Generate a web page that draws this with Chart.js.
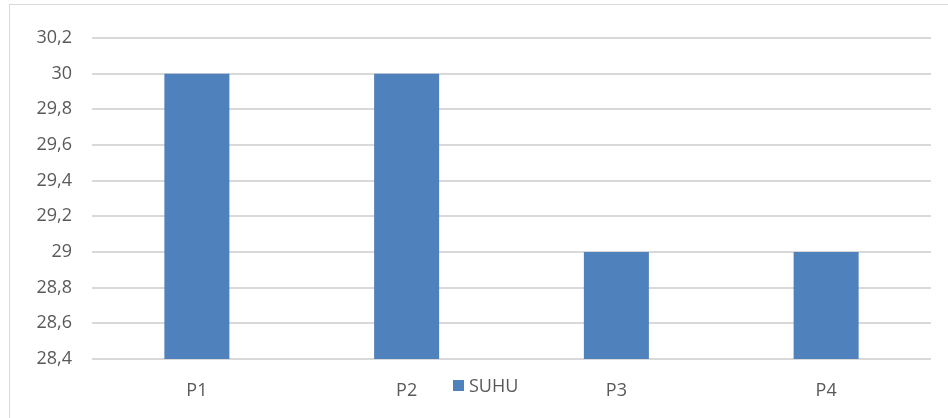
<!DOCTYPE html>
<html>
<head>
<meta charset="utf-8">
<script src="https://cdn.jsdelivr.net/npm/chart.js@4/dist/chart.umd.min.js"></script>
<style>
  body { margin: 0; background: #fff; }
  #wrap { position: relative; width: 948px; height: 418px; overflow: hidden; }
  #frame { position: absolute; left: 9px; top: 4px; width: 960px; height: 440px; border: 1px solid #d9d9d9; box-sizing: border-box; }
  #suhuChart { position: absolute; left: 0; top: 0; }
  #legend { position: absolute; left: 453px; top: 373px; font: 18px "Open Sans", sans-serif; color: #595959; display: flex; align-items: center; }
  #legend span.box { display: inline-block; width: 11px; height: 11px; margin-right: 5px; }
</style>
</head>
<body>
<div id="wrap">
  <div id="frame"></div>
  <canvas id="suhuChart" width="948" height="418"></canvas>
  <div id="legend"></div>
</div>
<script>
const categories = ['P1', 'P2', 'P3', 'P4'];
const suhuValues = [30, 30, 29, 29];
const seriesName = 'SUHU';
const yMin = 28.4;
const yMax = 30.2;
const yStep = 0.2;

const barColor = '#4f81bd';
const textColor = '#595959';
const gridColor = '#d9d9d9';

// format angka dengan koma desimal
function commaLabel(v) {
  return String(Number(v.toFixed(1))).replace('.', ',');
}

const ctx = document.getElementById('suhuChart');

new Chart(ctx, {
  type: 'bar',
  data: {
    labels: categories,
    datasets: [{
      label: seriesName,
      data: suhuValues,
      backgroundColor: barColor,
      borderWidth: 0,
      barPercentage: 0.31,
      categoryPercentage: 1
    }]
  },
  options: {
    responsive: false,
    animation: false,
    layout: {
      padding: { left: 0, top: 38, right: 17, bottom: 0 }
    },
    plugins: {
      legend: { display: false },
      tooltip: { enabled: false }
    },
    scales: {
      x: {
        grid: { display: false, drawTicks: false },
        border: { display: false },
        ticks: {
          color: textColor,
          font: { family: 'Open Sans', size: 18 },
          padding: 21
        },
        afterFit: (scale) => { scale.height = 59; }
      },
      y: {
        min: yMin,
        max: yMax,
        grid: { color: gridColor, lineWidth: 2, drawTicks: false },
        border: { display: false },
        ticks: {
          stepSize: yStep,
          color: textColor,
          font: { family: 'Open Sans', size: 18 },
          padding: 20,
          callback: (v) => commaLabel(v)
        },
        afterFit: (scale) => { scale.width = 92; }
      }
    }
  }
});

const legend = document.getElementById('legend');
legend.innerHTML = '<span class="box" style="background:' + barColor + '"></span>' + seriesName;
</script>
</body>
</html>
